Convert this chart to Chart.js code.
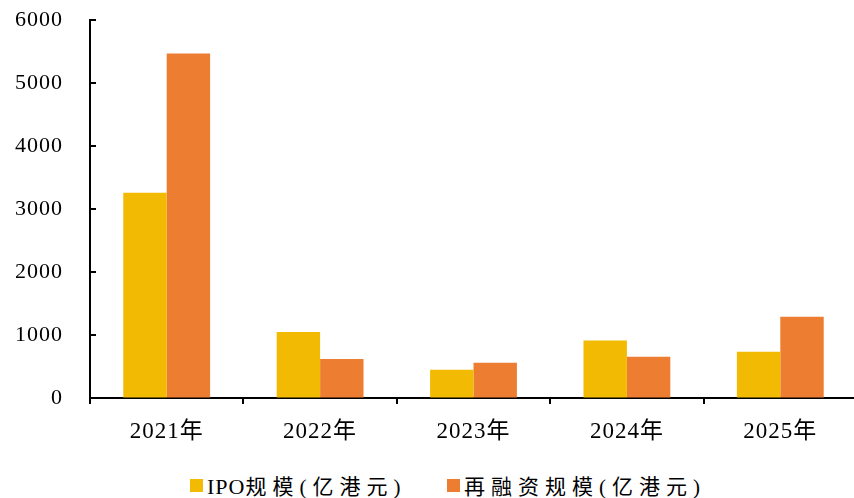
<!DOCTYPE html>
<html><head><meta charset="utf-8">
<script src="https://cdn.jsdelivr.net/npm/chart.js@4/dist/chart.umd.min.js"></script>
<style>
html,body{margin:0;padding:0;background:#fff;overflow:hidden;width:854px;height:498px;}
#wrap{position:absolute;left:0;top:-20px;width:857px;height:482px;}
#legend{position:absolute;top:474px;left:0;width:854px;height:22px;
 font-family:"Liberation Serif","Noto Sans CJK SC",serif;font-size:21px;color:#000;letter-spacing:6px;}
.item{position:absolute;top:0;display:flex;align-items:center;height:22px;white-space:nowrap;}
.box{width:13px;height:13px;margin-right:4px;flex:none;}
.lat{letter-spacing:1px;font-size:22px;}
</style></head>
<body>
<div id="wrap"><canvas id="c"></canvas></div>
<div id="legend"></div>
<script>
const categories = ["2021年","2022年","2023年","2024年","2025年"];
const ipoValues = [3261, 1047, 449, 914, 734];
const refiValues = [5472, 619, 560, 655, 1289];
const seriesNames = ["IPO规模(亿港元)","再融资规模(亿港元)"];
const seriesColors = ["#F2BA02","#ED7D31"];
const yTicks = [0,1000,2000,3000,4000,5000,6000];

const FONT = '"Liberation Serif","Noto Sans CJK SC",serif';

const spacing = {
  id:'spacing',
  beforeLayout(chart){ chart.ctx.letterSpacing='1px'; },
  beforeDraw(chart){ chart.ctx.letterSpacing='1px'; }
};

const innerTicks = {
  id:'innerTicks',
  afterDraw(chart){
    const y = chart.scales.y; const ctx = chart.ctx;
    ctx.save(); ctx.strokeStyle='#000'; ctx.lineWidth=2;
    yTicks.forEach(v=>{
      const p = Math.round(y.getPixelForValue(v));
      ctx.beginPath(); ctx.moveTo(y.right, p); ctx.lineTo(y.right+6, p); ctx.stroke();
    });
    ctx.restore();
  }
};

new Chart(document.getElementById('c'), {
  type:'bar',
  data:{
    labels:categories,
    datasets:[
      {label:seriesNames[0], data:ipoValues, backgroundColor:seriesColors[0], barPercentage:1, categoryPercentage:0.566},
      {label:seriesNames[1], data:refiValues, backgroundColor:seriesColors[1], barPercentage:1, categoryPercentage:0.566}
    ]
  },
  options:{
    responsive:true, maintainAspectRatio:false, animation:false,
    layout:{padding:{top:2,right:0,bottom:0,left:0}},
    plugins:{legend:{display:false}, tooltip:{enabled:false}},
    scales:{
      x:{
        grid:{display:true, drawOnChartArea:false, drawTicks:true, tickLength:6, color:'#000', lineWidth:2, offset:true},
        border:{color:'#000', width:2},
        ticks:{color:'#000', font:{family:FONT, size:23}, padding:14},
        afterFit(s){ s.height = 64; }
      },
      y:{
        min:0, max:6000,
        ticks:{stepSize:1000, color:'#000', font:{family:FONT, size:22}, padding:27,
               callback:(v)=>String(v)},
        grid:{display:true, drawOnChartArea:false, drawTicks:false},
        border:{color:'#000', width:2},
        afterFit(s){ s.width = 90; }
      }
    }
  },
  plugins:[spacing, innerTicks]
});

const lg = document.getElementById('legend');
const legendLeft = [190, 447];
seriesNames.forEach((n,i)=>{
  const it = document.createElement('div'); it.className='item';
  it.style.left = legendLeft[i]+'px';
  const b = document.createElement('div'); b.className='box'; b.style.background=seriesColors[i];
  const t = document.createElement('span');
  const m = n.match(/^([A-Za-z]*)(.*)$/);
  if(m[1]){ const s=document.createElement('span'); s.className='lat'; s.textContent=m[1]; t.appendChild(s); }
  t.appendChild(document.createTextNode(m[2]));
  it.appendChild(b); it.appendChild(t); lg.appendChild(it);
});
</script>
</body></html>
